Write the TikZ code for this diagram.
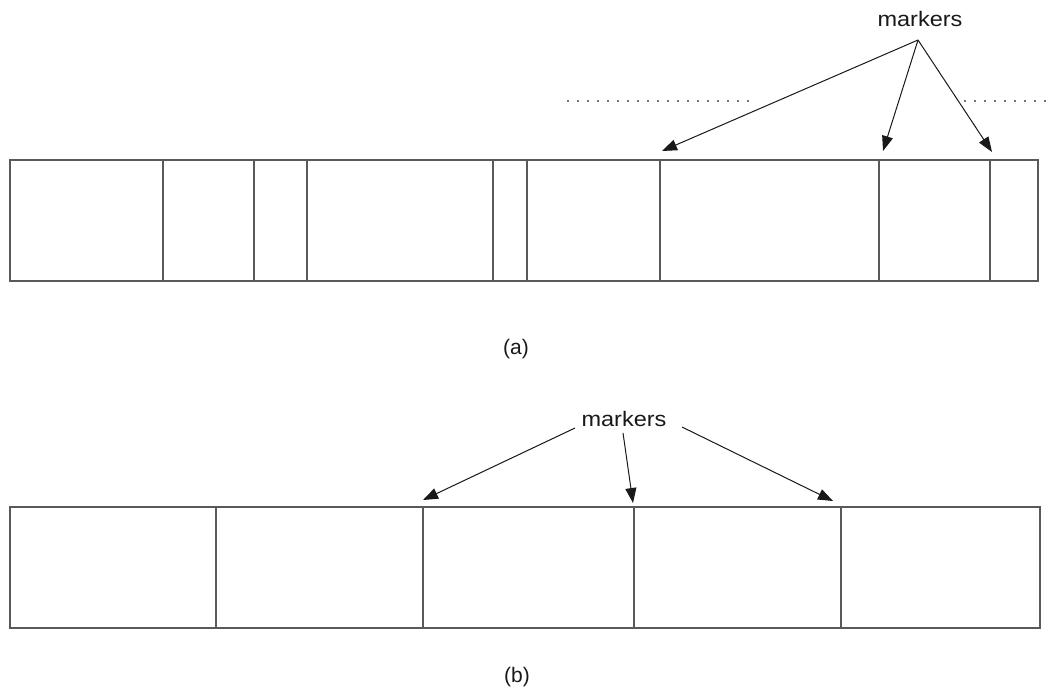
\documentclass[tikz,border=0pt]{standalone}
\usepackage{fontspec}
\setmainfont{Liberation Sans}
\usetikzlibrary{arrows.meta}
\begin{document}
\begin{tikzpicture}[x=1pt,y=-1pt,
  bar/.style={draw=black!65, line width=1.5pt},
  pointer/.style={draw=black!90, line width=1pt, -{Triangle[length=15pt,width=11pt]}},
  lbl/.style={font=\fontsize{21}{25}\selectfont, text=black!90, inner sep=0pt},
  guide/.style={draw=black!55, line width=1.5pt, dash pattern=on 1.5pt off 8.5pt}]
\useasboundingbox (0,0) rectangle (1054,691);
\fill[white] (0,0) rectangle (1054,691);

% (a) byte stream with variable-length fields
\draw[bar] (10,160) rectangle (1038,281);
\foreach \x in {163,254,307,493,527,660,879,990}
  \draw[bar] (\x,160) -- (\x,281);
\draw[guide] (567,101) -- (750,101);
\draw[guide] (964,101) -- (1054,101);

\node[lbl] (mka) at (920,19) {\scalebox{1.12}[1]{markers}};
\coordinate (mkaSrc) at (918,40);
\coordinate (ta1) at (662,151);
\coordinate (ta2) at (883,151);
\coordinate (ta3) at (992,152);
\draw[pointer] (mkaSrc) -- (ta1);
\draw[pointer] (mkaSrc) -- (ta2);
\draw[pointer] (mkaSrc) -- (ta3);

\node[lbl] (capa) at (516,349) {(a)};

% (b) byte stream with fixed-length fields
\draw[bar] (10,507) rectangle (1040,628);
\foreach \x in {216,423,634,841}
  \draw[bar] (\x,507) -- (\x,628);

\node[lbl] (mkb) at (624,419) {\scalebox{1.12}[1]{markers}};
\coordinate (sb1) at (575,428);
\coordinate (sb2) at (623,433);
\coordinate (sb3) at (682,427);
\coordinate (tb1) at (423,500);
\coordinate (tb2) at (633,503);
\coordinate (tb3) at (833,501);
\draw[pointer] (sb1) -- (tb1);
\draw[pointer] (sb2) -- (tb2);
\draw[pointer] (sb3) -- (tb3);

\node[lbl] (capb) at (517,677) {(b)};
\end{tikzpicture}
\end{document}
